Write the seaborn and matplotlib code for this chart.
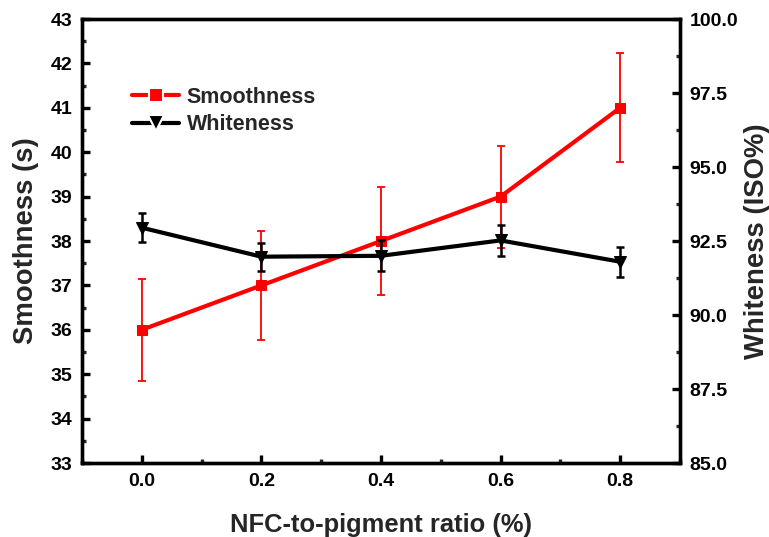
import matplotlib
matplotlib.use("Agg")
import matplotlib.pyplot as plt
import seaborn as sns
import pandas as pd
from matplotlib.ticker import MultipleLocator, FormatStrFormatter
from matplotlib.lines import Line2D

ratio = [0.0, 0.2, 0.4, 0.6, 0.8]
smoothness = [36.0, 37.0, 38.0, 39.0, 41.0]
smooth_err = [1.15, 1.22, 1.22, 1.15, 1.23]
whiteness = [92.95, 91.97, 92.0, 92.52, 91.8]
white_err = [0.49, 0.47, 0.53, 0.52, 0.5]

sns.set_theme(style="white")
plt.rcParams['font.family'] = ['Liberation Sans', 'DejaVu Sans']
plt.rcParams['font.weight'] = 'bold'

df = pd.DataFrame({"ratio": ratio, "smooth": smoothness, "white": whiteness})

fig = plt.figure(figsize=(7.69, 5.37), dpi=100)
ax = fig.add_axes([0.1066, 0.1378, 0.7776, 0.8268])
ax2 = ax.twinx()

red = "#ff0000"
ax.errorbar(ratio, smoothness, yerr=smooth_err, fmt="none", ecolor=red,
            elinewidth=1.3, capsize=3, capthick=1.3, zorder=2)
sns.lineplot(data=df, x="ratio", y="smooth", ax=ax, color=red, lw=3.0,
             marker="s", markersize=7.5, markeredgecolor=red, zorder=3)

ax2.errorbar(ratio, whiteness, yerr=white_err, fmt="none", ecolor="black",
             elinewidth=1.8, capsize=3, capthick=1.8, zorder=2)
sns.lineplot(data=df, x="ratio", y="white", ax=ax2, color="black", lw=3.0,
             marker="v", markersize=9, markeredgecolor="black", zorder=3)

ax.set_xlim(-0.1, 0.9)
ax.set_ylim(33, 43)
ax2.set_ylim(85, 100)

ax.xaxis.set_major_locator(MultipleLocator(0.2))
ax.xaxis.set_minor_locator(MultipleLocator(0.1))
ax.xaxis.set_major_formatter(FormatStrFormatter("%.1f"))
ax.yaxis.set_major_locator(MultipleLocator(1))
ax.yaxis.set_minor_locator(MultipleLocator(0.5))
ax2.yaxis.set_major_locator(MultipleLocator(2.5))
ax2.yaxis.set_minor_locator(MultipleLocator(1.25))
ax2.yaxis.set_major_formatter(FormatStrFormatter("%.1f"))

for a in (ax, ax2):
    for s in a.spines.values():
        s.set_linewidth(2.4)
        s.set_color("black")
    a.tick_params(which="major", direction="in", length=6, width=2.4,
                  labelsize=14, colors="black", pad=7)
    a.tick_params(which="minor", direction="in", length=3, width=2.4)
ax.tick_params(axis="y", which="both", left=True, right=False)
ax.tick_params(axis="x", which="both", bottom=True, top=False)
ax2.tick_params(axis="y", which="both", right=True, left=False)

for lbl in ax.get_xticklabels() + ax.get_yticklabels() + ax2.get_yticklabels():
    lbl.set_fontweight("bold")

ax.set_xlabel("NFC-to-pigment ratio (%)", fontsize=18.4, fontweight="bold", labelpad=17)
ax.set_ylabel("Smoothness (s)", fontsize=19.8, fontweight="bold", labelpad=8)
ax2.set_ylabel("Whiteness (ISO%)", fontsize=19.8, fontweight="bold", labelpad=4)

handles = [
    Line2D([], [], color=red, lw=3.0, marker="s", markersize=9.5,
           markerfacecolor=red, markeredgecolor="white", markeredgewidth=1.5),
    Line2D([], [], color="black", lw=3.0, marker="v", markersize=11.5,
           markerfacecolor="black", markeredgecolor="white", markeredgewidth=1.5),
]
leg = ax.legend(handles, ["Smoothness", "Whiteness"], loc="upper left",
                bbox_to_anchor=(0.0836, 0.847), frameon=False, fontsize=15.5,
                handlelength=2.2, handletextpad=0.35, labelspacing=0.3,
                borderaxespad=0, borderpad=0)
for t in leg.get_texts():
    t.set_fontweight("bold")

fig.savefig("out.png", dpi=100)
